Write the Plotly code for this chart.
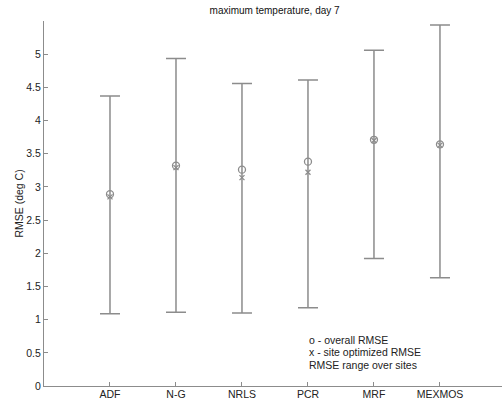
import plotly.graph_objects as go

categories = ["ADF", "N-G", "NRLS", "PCR", "MRF", "MEXMOS"]
overall_rmse = [2.89, 3.32, 3.26, 3.38, 3.71, 3.64]
site_opt_rmse = [2.85, 3.29, 3.14, 3.22, 3.70, 3.63]
range_max = [4.37, 4.935, 4.56, 4.61, 5.06, 5.44]
range_min = [1.09, 1.11, 1.10, 1.18, 1.92, 1.63]
y_ticks = [0, 0.5, 1, 1.5, 2, 2.5, 3, 3.5, 4, 4.5, 5]
legend_lines = ["o - overall RMSE", "x - site optimized RMSE", "RMSE range over sites"]

xpos = list(range(1, len(categories) + 1))
gray = "#8c8c8c"
font = "Liberation Sans, Arial, sans-serif"

fig = go.Figure()
fig.add_trace(go.Scatter(
    x=xpos, y=overall_rmse, mode="markers",
    marker=dict(symbol="circle-open", size=7, color=gray, line=dict(width=1.3, color=gray)),
    error_y=dict(type="data", symmetric=False,
                 array=[a - b for a, b in zip(range_max, overall_rmse)],
                 arrayminus=[b - a for a, b in zip(range_min, overall_rmse)],
                 color=gray, thickness=1.5, width=10),
    showlegend=False, hoverinfo="skip"))
fig.add_trace(go.Scatter(
    x=xpos, y=site_opt_rmse, mode="markers",
    marker=dict(symbol="x-thin-open", size=5, color=gray, line=dict(width=1.3, color=gray)),
    showlegend=False, hoverinfo="skip"))

for i, t in enumerate(legend_lines):
    fig.add_annotation(x=3.98, y=0.69 - i * 0.185, xref="x", yref="y", text=t,
                       showarrow=False, xanchor="left", yanchor="middle",
                       font=dict(size=10.5, color="#222", family=font))

fig.update_layout(
    width=502, height=404,
    margin=dict(l=44, r=0, t=21, b=18, autoexpand=False),
    paper_bgcolor="white", plot_bgcolor="white",
    title=dict(text="maximum temperature, day 7", x=0.547, xanchor="center",
               y=0.975, yanchor="middle", font=dict(size=10, color="#111", family=font)),
    font=dict(family=font, size=10, color="#222"),
    xaxis=dict(range=[0, 6.94], tickvals=xpos, ticktext=categories, ticks="inside",
               ticklen=4, tickcolor=gray, showline=True, linecolor=gray, linewidth=1.2,
               showgrid=False, zeroline=False, tickfont=dict(size=10.5),
               automargin=False, ticklabelstandoff=-2),
    yaxis=dict(range=[0, 5.5], tickvals=y_ticks, ticks="inside", ticklen=4,
               tickcolor=gray, showline=True, linecolor=gray, linewidth=1.2,
               showgrid=False, zeroline=False, tickfont=dict(size=10.5),
               automargin=False,
               title=dict(text="RMSE (deg C)", standoff=0, font=dict(size=10.5))),
)
fig.write_html("out.html", config={"displayModeBar": False},
               post_script="document.body.style.margin='0';document.body.style.overflow='hidden';")
